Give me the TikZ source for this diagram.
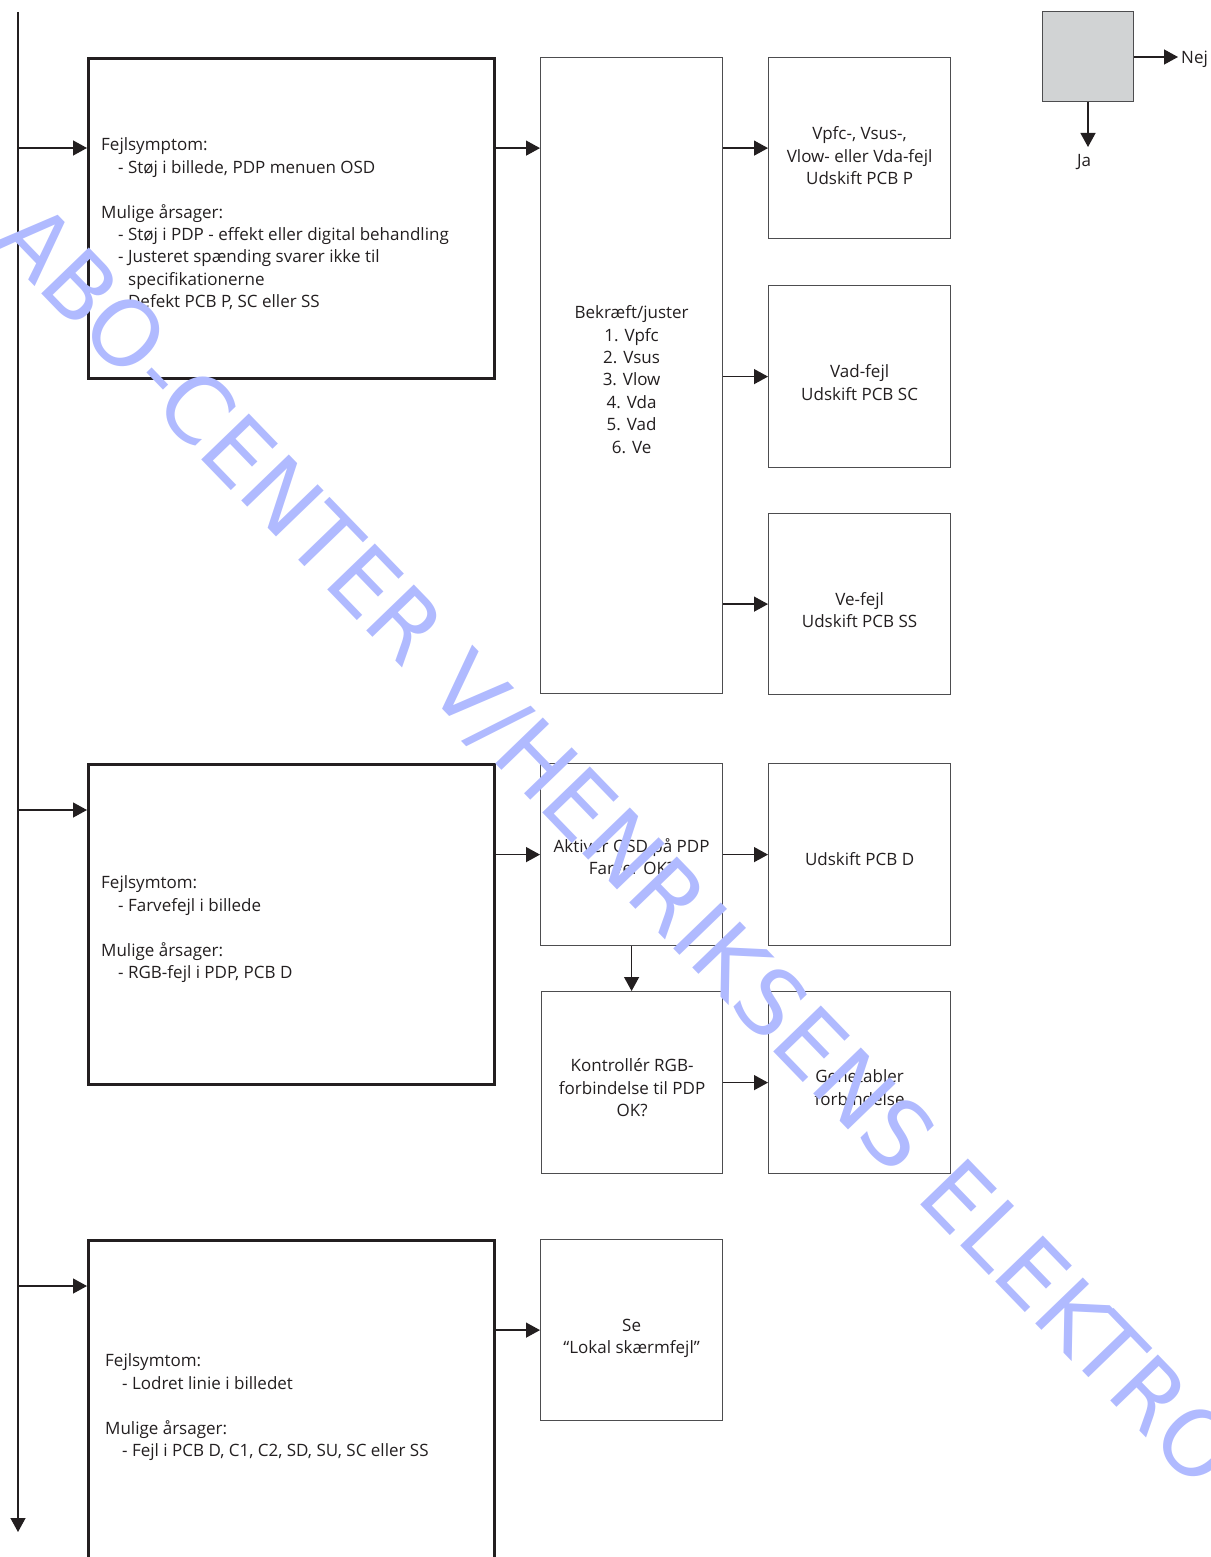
\documentclass[tikz,border=0pt]{standalone}
\usepackage{fontspec}
\setmainfont{Open Sans}
\newfontfamily\wmfont{DejaVu Sans}
\usetikzlibrary{arrows.meta}
\definecolor{ink}{HTML}{231F20}
\definecolor{boxline}{HTML}{4D4D4F}
\definecolor{legendgray}{HTML}{D1D3D4}
\definecolor{wmblue}{RGB}{176,186,255}
\begin{document}
\begin{tikzpicture}[x=1pt,y=-1pt,
  every node/.style={font=\fontsize{17}{22.4}\selectfont, text=ink},
  thickbox/.style={draw=ink, line width=2.7pt, minimum width=406pt, minimum height=320pt,
    inner sep=0pt, anchor=north west},
  thinbox/.style={draw=boxline, line width=1.2pt, minimum width=182pt, minimum height=182pt,
    inner sep=0pt, anchor=north west},
  lefttext/.style={align=left, inner sep=0pt, anchor=west},
  boxtext/.style={align=center, inner sep=0pt},
  arr/.style={draw=ink, line width=1.3pt, -{Triangle[length=14pt,width=15pt]}},
  wm/.style={font=\wmfont\fontsize{90.8}{100}\selectfont, text=wmblue, inner sep=0pt}
]
\useasboundingbox (0,0) rectangle (1210,1557);
\clip (0,0) rectangle (1210,1557);

% spine
\coordinate (top) at (18,12);
\coordinate (bot) at (18,1532);
\coordinate (s1) at (18,148);
\coordinate (s2) at (18,810);
\coordinate (s3) at (18,1286);
\draw[arr] (top) -- (bot);

% symptom boxes
\node[thickbox] (b1) at (87,57) {};
\node[lefttext] (b1t) at ([xshift=14pt,yshift=-5.5pt]b1.west) {Fejlsymptom:\\
\hspace*{17pt}- Støj i billede, PDP menuen OSD\\[22.4pt]
Mulige årsager:\\
\hspace*{17pt}- Støj i PDP - effekt eller digital behandling\\
\hspace*{17pt}- Justeret spænding svarer ikke til\\
\hspace*{27pt}specifikationerne\\
\hspace*{17pt}- Defekt PCB P, SC eller SS};

\node[thickbox] (b2) at (87,763) {};
\node[lefttext] (b2t) at ([xshift=14pt,yshift=-5pt]b2.west) {Fejlsymtom:\\
\hspace*{17pt}- Farvefejl i billede\\[22.4pt]
Mulige årsager:\\
\hspace*{17pt}- RGB-fejl i PDP, PCB D};

\node[thickbox, minimum height=322pt] (b3) at (87,1239) {};
\node[lefttext] (b3t) at ([xshift=18pt,yshift=-6pt]b3.west) {Fejlsymtom:\\
\hspace*{17pt}- Lodret linie i billedet\\[22.4pt]
Mulige årsager:\\
\hspace*{17pt}- Fejl i PCB D, C1, C2, SD, SU, SC eller SS};

% middle and right boxes
\node[thinbox, minimum height=636pt] (bek) at (540,57) {};
\node[boxtext] (bekt) at ([yshift=-4pt]bek.center) {Bekræft/juster\\ 1. Vpfc\\ 2. Vsus\\ 3. Vlow\\ 4. Vda\\ 5. Vad\\ 6. Ve};
\node[thinbox, minimum height=181pt] (r1) at (768,57) {};
\node[boxtext] (r1t) at ([yshift=-7.5pt]r1.center) {Vpfc-, Vsus-,\\ Vlow- eller Vda-fejl\\ Udskift PCB P};
\node[thinbox] (r2) at (768,285) {};
\node[boxtext] (r2t) at ([yshift=-6pt]r2.center) {Vad-fejl\\ Udskift PCB SC};
\node[thinbox, minimum height=181pt] (r3) at (768,513) {};
\node[boxtext] (r3t) at ([yshift=-6pt]r3.center) {Ve-fejl\\ Udskift PCB SS};

\node[thinbox] (akt) at (540,763) {};
\node[boxtext] (aktt) at ([yshift=-2pt]akt.center) {Aktivér OSD på PDP\\ Farver OK?};
\node[thinbox] (udD) at (768,763) {};
\node[boxtext] (udDt) at ([yshift=-4pt]udD.center) {Udskift PCB D};
\node[thinbox, minimum width=181pt] (kon) at (541,991) {};
\node[boxtext] (kont) at ([yshift=-5pt]kon.center) {Kontrollér RGB-\\ forbindelse til PDP\\ OK?};
\node[thinbox] (gen) at (768,991) {};
\node[boxtext] (gent) at ([yshift=-5pt]gen.center) {Genetabler\\ forbindelse};
\node[thinbox, minimum height=181pt] (se) at (540,1239) {};
\node[boxtext] (set) at ([yshift=-8pt]se.center) {Se\\ “Lokal skærmfejl”};

% connectors
\draw[arr] (s1) -- (s1 -| b1.west);
\draw[arr] (s2) -- (s2 -| b2.west);
\draw[arr] (s3) -- (s3 -| b3.west);
\draw[arr] (b1.east |- r1) -- (bek.west |- r1);
\draw[arr] (bek.east |- r1) -- (r1.west);
\draw[arr] (bek.east |- r2) -- (r2.west);
\draw[arr] (bek.east |- r3) -- (r3.west);
\draw[arr] (b2.east |- akt) -- (akt.west);
\draw[arr] (akt.east) -- (udD.west);
\draw[arr] (akt.south) -- (akt.south |- kon.north);
\draw[arr] (kon.east) -- (gen.west);
\draw[arr] (b3.east |- se) -- (se.west);

% legend
\node[draw=boxline, line width=1.2pt, fill=legendgray, minimum width=91pt, minimum height=90pt, anchor=north west] (leg) at (1042,11) {};
\coordinate (nejend) at (1178,57);
\coordinate (jaend) at (1088,147);
\draw[arr] (leg.east |- nejend) -- (nejend);
\draw[arr] (leg.south -| jaend) -- (jaend);
\node[anchor=west, inner sep=0pt] (nej) at (1181,59) {Nej};
\node[anchor=north, inner sep=0pt] (ja) at (1084,154) {Ja};

% watermark
\node[wm, rotate=-46, anchor=base] (wmark) at (595,867) {ABO-CENTER V/HENRIKSENS ELEKTRO};
\end{tikzpicture}
\end{document}
